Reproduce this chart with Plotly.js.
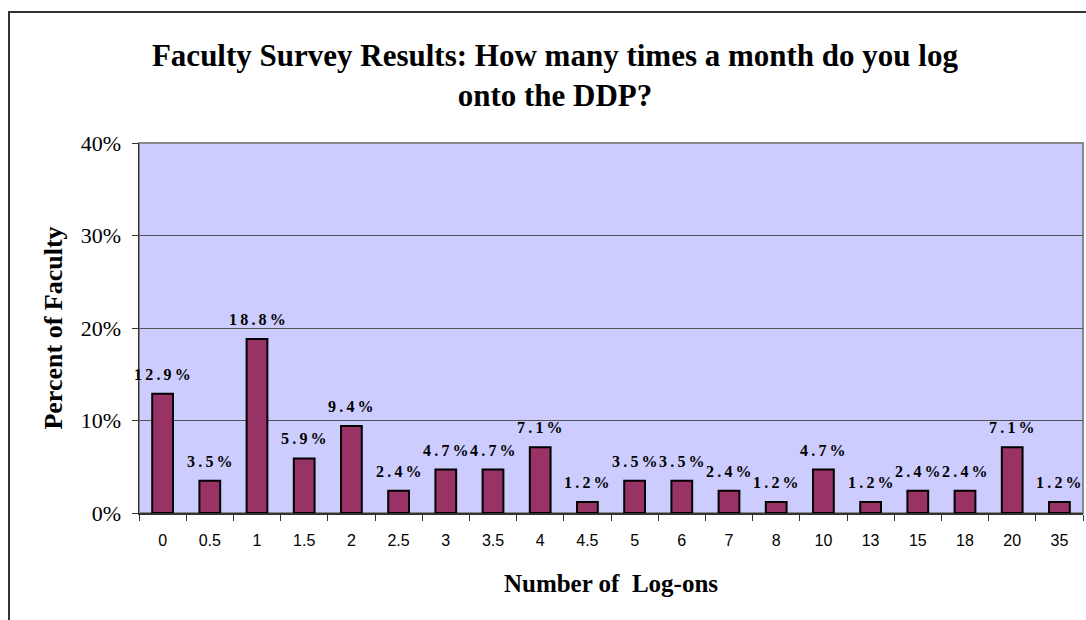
<!DOCTYPE html>
<html>
<head>
<meta charset="utf-8">
<script src="https://cdn.plot.ly/plotly-3.0.1.min.js"></script>
<style>
  html, body { margin: 0; padding: 0; background: #fff; }
  #wrap { position: relative; width: 1086px; height: 620px; overflow: hidden; }
  #chart { position: absolute; left: 0; top: 0; width: 1086px; height: 620px; }
  #frame { position: absolute; left: 8px; top: 11px; width: 1100px; height: 700px;
           border-left: 2px solid #333; border-top: 2px solid #333; pointer-events: none; }
</style>
</head>
<body>
<div id="wrap">
  <div id="chart"></div>
  <div id="frame"></div>
</div>
<script>
const categories = ["0", "0.5", "1", "1.5", "2", "2.5", "3", "3.5", "4", "4.5",
                    "5", "6", "7", "8", "10", "13", "15", "18", "20", "35"];
const percentValues = [12.9, 3.5, 18.8, 5.9, 9.4, 2.4, 4.7, 4.7, 7.1, 1.2,
                       3.5, 3.5, 2.4, 1.2, 4.7, 1.2, 2.4, 2.4, 7.1, 1.2];
const yTickValues = [0, 10, 20, 30, 40];
const yTickLabels = ["0%", "10%", "20%", "30%", "40%"];
const chartTitle = "Faculty Survey Results: How many times a month do you log<br>onto the DDP?";
const xTitle = "Number of  Log-ons";
const yTitle = "Percent of Faculty";

function spaced(v) {
  const s = v.toFixed(1) + "%";
  return s.split("").join("\u2009");
}

const serif = "Liberation Serif, Times New Roman, serif";
const sans = "Liberation Sans, Arial, sans-serif";

const trace = {
  type: "bar",
  x: categories,
  y: percentValues,
  marker: { color: "#993366", line: { color: "#000000", width: 2 } },
  hoverinfo: "x+y"
};

const annotations = percentValues.map((v, i) => ({
  x: i, y: v, xref: "x", yref: "y",
  text: spaced(v),
  showarrow: false, yanchor: "bottom", yshift: 9,
  font: { family: serif, size: 16, color: "#000", weight: "bold" }
}));

const layout = {
  width: 1086, height: 620,
  margin: { l: 139, r: 3, t: 143, b: 107, pad: 0 },
  paper_bgcolor: "rgba(0,0,0,0)",
  plot_bgcolor: "#CCCCFF",
  showlegend: false,
  bargap: 0.56,
  title: {
    text: chartTitle,
    font: { family: serif, size: 31, color: "#000", weight: "bold" },
    x: 0.511, xanchor: "center", xref: "container",
    y: 1 - 66 / 620, yanchor: "top", yref: "container"
  },
  xaxis: {
    type: "category",
    range: [-0.5, categories.length - 0.5],
    autorange: false,
    tickson: "boundaries",
    tickangle: 0,
    ticks: "outside", ticklen: 6, tickcolor: "#333", tickwidth: 1,
    ticklabelstandoff: 12,
    showline: true, linecolor: "#333", linewidth: 1.5,
    showgrid: false,
    tickfont: { family: sans, size: 16, color: "#000" },
    title: { text: xTitle, font: { family: serif, size: 25, color: "#000", weight: "bold" }, standoff: 27 },
    automargin: false
  },
  yaxis: {
    range: [0, 40], autorange: false,
    tickvals: yTickValues, ticktext: yTickLabels,
    ticks: "outside", ticklen: 6, tickcolor: "#333", tickwidth: 1,
    ticklabelstandoff: 6,
    showline: true, linecolor: "#333", linewidth: 1.5,
    showgrid: true, gridcolor: "#555", gridwidth: 1,
    zeroline: false,
    tickfont: { family: serif, size: 22, color: "#000" },
    title: { text: yTitle, font: { family: serif, size: 26, color: "#000", weight: "bold" }, standoff: 10 },
    automargin: false
  },
  shapes: [{
    type: "rect", xref: "paper", yref: "paper", x0: 0, x1: 1, y0: 0, y1: 1,
    line: { color: "#888", width: 2 }, layer: "below"
  }],
  annotations: annotations
};

Plotly.newPlot("chart", [trace], layout, { displayModeBar: false, staticPlot: true });
</script>
</body>
</html>
